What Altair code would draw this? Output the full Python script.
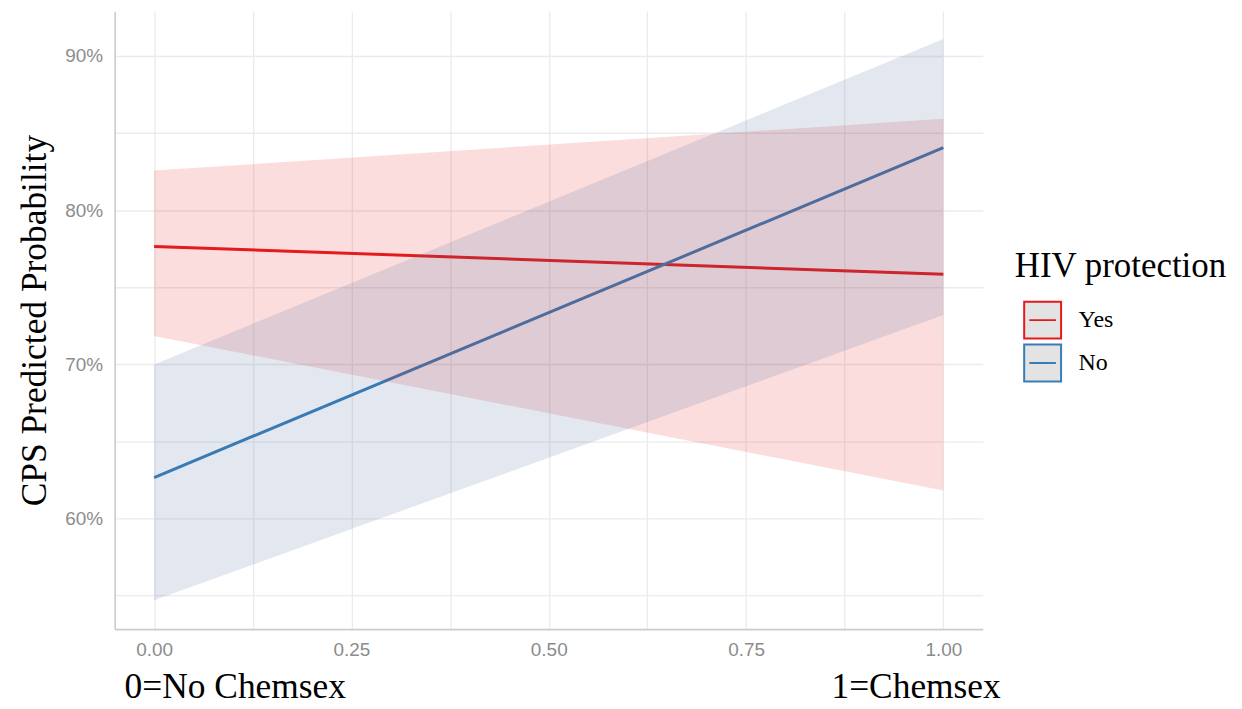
import altair as alt
import pandas as pd

# Data
x_vals = [0.0, 1.0]
groups = ["Yes", "No"]
yes_fit = [0.7765, 0.7584]
yes_lo = [0.7184, 0.6182]
yes_hi = [0.8257, 0.8593]
no_fit = [0.6266, 0.8405]
no_lo = [0.547, 0.732]
no_hi = [0.700, 0.911]
line_colors = ["#E41A1C", "#377EB8"]
ribbon_colors = ["#E41A1C", "#44669B"]

x_ticks = [0, 0.125, 0.25, 0.375, 0.5, 0.625, 0.75, 0.875, 1.0]
y_ticks = [0.55, 0.6, 0.65, 0.7, 0.75, 0.8, 0.85, 0.9]

rows = []
for g, fit, lo, hi in [("Yes", yes_fit, yes_lo, yes_hi), ("No", no_fit, no_lo, no_hi)]:
    for i, xv in enumerate(x_vals):
        rows.append({"x": xv, "fit": fit[i], "lo": lo[i], "hi": hi[i], "group": g})
df = pd.DataFrame(rows)

W, H = 871, 620

xscale = alt.Scale(domain=[-0.05, 1.05], nice=False, zero=False)
yscale = alt.Scale(domain=[0.5283, 0.9291], nice=False, zero=False)

xaxis = alt.Axis(
    values=x_ticks,
    labelExpr="(round(datum.value*8) % 2 == 0) ? format(datum.value, '.2f') : ''",
    title=None,
    grid=True,
    ticks=False,
    labelPadding=11,
)
yaxis = alt.Axis(
    values=y_ticks,
    labelExpr="(round(datum.value*100) % 10 == 0) ? format(datum.value, '.0%') : ''",
    title="CPS Predicted Probability",
    grid=True,
    ticks=False,
    labelPadding=12,
    titlePadding=12,
)

base = alt.Chart(df)

lines = base.mark_line(strokeWidth=3, clip=True).encode(
    x=alt.X("x:Q", scale=xscale, axis=xaxis),
    y=alt.Y("fit:Q", scale=yscale, axis=yaxis),
    stroke=alt.Stroke(
        "group:N",
        scale=alt.Scale(domain=groups, range=line_colors),
        sort=groups,
        legend=alt.Legend(
            title="HIV protection",
            orient="none",
            legendX=903,
            legendY=239,
            titleLimit=400,
            symbolType="M-1,-1H1V1H-1Z M-0.72,0H0.72",
            symbolSize=1370,
            symbolFillColor="#E3E3E3",
            symbolStrokeWidth=2,
            symbolOffset=8,
            labelOffset=16,
            rowPadding=-4,
            titlePadding=16,
            padding=0,
        ),
    ),
    detail="group:N",
)

ribbons = base.mark_area(fillOpacity=0.15, clip=True).encode(
    x=alt.X("x:Q", scale=xscale),
    y=alt.Y("lo:Q", scale=yscale),
    y2="hi:Q",
    fill=alt.Fill("group:N", scale=alt.Scale(domain=groups, range=ribbon_colors), legend=None),
    detail="group:N",
)

ann_df = pd.DataFrame({"label": ["0=No Chemsex", "1=Chemsex"], "side": ["left", "right"]})
ann_left = alt.Chart(ann_df).transform_filter("datum.side == 'left'").mark_text(
    align="left", baseline="alphabetic", font="Liberation Serif", fontSize=35.5, color="black"
).encode(x=alt.value(10), y=alt.value(H + 69), text="label:N")
ann_right = alt.Chart(ann_df).transform_filter("datum.side == 'right'").mark_text(
    align="right", baseline="alphabetic", font="Liberation Serif", fontSize=35.5, color="black"
).encode(x=alt.value(889), y=alt.value(H + 69), text="label:N")

chart = (
    alt.layer(lines, ribbons, ann_left, ann_right)
    .resolve_scale(stroke="independent", fill="independent")
    .properties(
        width=W,
        height=H,
        autosize=alt.AutoSizeParams(type="none"),
        padding={"left": 107, "top": 2, "right": 252, "bottom": 79},
        background="white",
    )
    .configure_view(stroke=None)
    .configure_axis(
        gridColor="#EBEBEB",
        gridWidth=1.3,
        domainColor="#CCCCCC",
        domainWidth=1.6,
        labelColor="#8C8C8C",
        labelFont="Liberation Sans",
        labelFontSize=19,
        titleFont="Liberation Serif",
        titleFontSize=35.5,
        titleFontWeight="normal",
        titleColor="black",
    )
    .configure_legend(
        titleFont="Liberation Serif",
        titleFontSize=35,
        titleFontWeight="normal",
        titleColor="black",
        labelFont="Liberation Serif",
        labelFontSize=24,
        labelColor="black",
    )
)

chart.save("out.html", embed_options={"renderer": "svg", "actions": False})
